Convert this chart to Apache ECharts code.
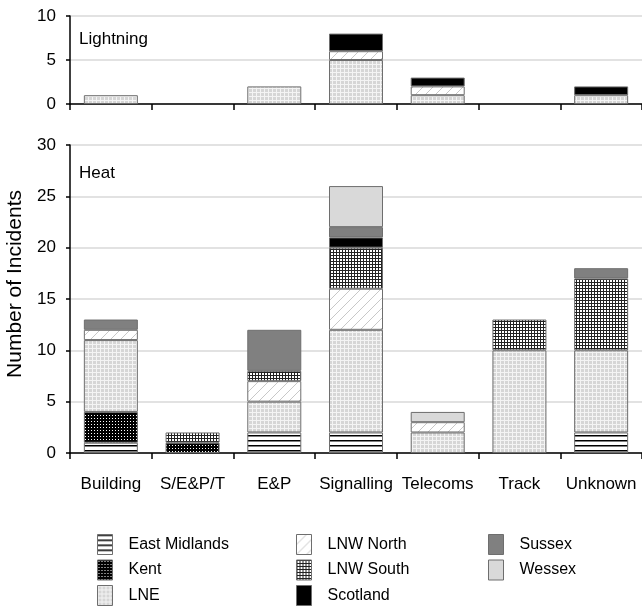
<!DOCTYPE html>
<html><head><meta charset="utf-8">
<script src="https://cdn.jsdelivr.net/npm/echarts@6/dist/echarts.min.js"></script>
<style>html,body{margin:0;padding:0;background:#fff}#c{width:642px;height:606px}</style>
</head><body><div id="c"></div>
<script>
const categories = ['Building','S/E&P/T','E&P','Signalling','Telecoms','Track','Unknown'];
const regions = ['East Midlands','Kent','LNE','LNW North','LNW South','Scotland','Sussex','Wessex'];
// Lightning incidents per region
const lightEastMidlands = [0,0,0,0,0,0,0];
const lightKent        = [0,0,0,0,0,0,0];
const lightLNE         = [1,0,2,5,1,0,1];
const lightLNWNorth    = [0,0,0,1,1,0,0];
const lightLNWSouth    = [0,0,0,0,0,0,0];
const lightScotland    = [0,0,0,2,1,0,1];
const lightSussex      = [0,0,0,0,0,0,0];
const lightWessex      = [0,0,0,0,0,0,0];
// Heat incidents per region
const heatEastMidlands = [1,0,2,2,0,0,2];
const heatKent         = [3,1,0,0,0,0,0];
const heatLNE          = [7,0,3,10,2,10,8];
const heatLNWNorth     = [1,0,2,4,1,0,0];
const heatLNWSouth     = [0,1,1,4,0,3,7];
const heatScotland     = [0,0,0,1,0,0,0];
const heatSussex       = [1,0,4,1,0,0,1];
const heatWessex       = [0,0,0,4,1,0,0];
const lightTicks = [0,5,10];
const heatTicks = [0,5,10,15,20,25,30];

const lightData = [lightEastMidlands,lightKent,lightLNE,lightLNWNorth,lightLNWSouth,lightScotland,lightSussex,lightWessex];
const heatData = [heatEastMidlands,heatKent,heatLNE,heatLNWNorth,heatLNWSouth,heatScotland,heatSussex,heatWessex];

function pat(w,h,draw){const c=document.createElement('canvas');c.width=w;c.height=h;const g=c.getContext('2d');draw(g);return {image:c,repeat:'repeat'};}
const fills = [
  pat(5,5,g=>{g.fillStyle='#fff';g.fillRect(0,0,5,5);g.fillStyle='#000';g.fillRect(0,0,5,1.5);}),
  pat(3,3,g=>{g.fillStyle='#000';g.fillRect(0,0,3,3);g.fillStyle='#fff';g.fillRect(1,1,1,1);}),
  pat(4,4,g=>{g.fillStyle='#d6d6d6';g.fillRect(0,0,4,4);g.fillStyle='#f4f4f4';g.fillRect(0,0,4,1);g.fillRect(0,0,1,4);}),
  pat(10,10,g=>{g.fillStyle='#fff';g.fillRect(0,0,10,10);g.strokeStyle='#c8c8c8';g.lineWidth=1;g.beginPath();g.moveTo(0,10);g.lineTo(10,0);g.stroke();}),
  pat(3,3,g=>{g.fillStyle='#fff';g.fillRect(0,0,3,3);g.fillStyle='#222';g.fillRect(0,0,3,1);g.fillRect(0,0,1,3);}),
  '#000',
  '#808080',
  '#d9d9d9'
];

const series = [];
regions.forEach((r,i)=>{
  const style = {color: fills[i], borderColor:'#6e6e6e', borderWidth:1};
  series.push({name:r,type:'bar',stack:'L',xAxisIndex:0,yAxisIndex:0,barWidth:54,
    data:lightData[i].map(v=>v===0?'-':v),itemStyle:style,emphasis:{disabled:true}});
  series.push({name:r,type:'bar',stack:'H',xAxisIndex:1,yAxisIndex:1,barWidth:54,
    data:heatData[i].map(v=>v===0?'-':v),itemStyle:style,emphasis:{disabled:true}});
});

const font = '"Liberation Sans", Arial, sans-serif';
const axisX = (show)=>({type:'category',data:categories,boundaryGap:true,
  axisLine:{lineStyle:{color:'#000',width:1.5}},
  axisTick:{show:true,length:6,lineStyle:{color:'#000',width:1.5},alignWithLabel:false},
  axisLabel:{show:show,interval:0,color:'#000',fontSize:17,fontFamily:font,margin:23}});
const axisY = (ticks)=>({type:'value',min:ticks[0],max:ticks[ticks.length-1],interval:ticks[1]-ticks[0],
  axisLine:{show:true,lineStyle:{color:'#000',width:1.5}},
  axisTick:{show:true,length:4,lineStyle:{color:'#000',width:1.5}},
  axisLabel:{color:'#000',fontSize:17,fontFamily:font,margin:14},
  splitLine:{lineStyle:{color:'#d9d9d9',width:1.5}}});

const legendBase = {orient:'vertical',icon:'rect',itemWidth:15,itemHeight:20,itemGap:4.5,padding:0,height:120,
  textStyle:{fontSize:16,fontFamily:font,color:'#000',padding:[0,0,0,11]},selectedMode:false,
  itemStyle:{borderColor:'#6e6e6e',borderWidth:1}};

const chart = echarts.init(document.getElementById('c'),null,{renderer:'canvas'});
chart.setOption({
  animation:false,
  textStyle:{fontFamily:font},
  grid:[{left:70,right:0,top:16,height:88},{left:70,right:0,top:145,height:308}],
  xAxis:[axisX(false),Object.assign(axisX(true),{gridIndex:1})],
  yAxis:[axisY(lightTicks),Object.assign(axisY(heatTicks),{gridIndex:1})],
  legend:[
    Object.assign({},legendBase,{left:97,top:534,data:regions.slice(0,3)}),
    Object.assign({},legendBase,{left:296,top:534,data:regions.slice(3,6)}),
    Object.assign({},legendBase,{left:488,top:534,data:regions.slice(6,8)})
  ],
  graphic:[
    {type:'text',x:79,y:39,style:{text:'Lightning',font:'17px '+font,fill:'#000',textVerticalAlign:'middle'}},
    {type:'text',x:79,y:173,style:{text:'Heat',font:'17px '+font,fill:'#000',textVerticalAlign:'middle'}},
    {type:'text',x:15,y:284,rotation:Math.PI/2,style:{text:'Number of Incidents',font:'21px '+font,fill:'#000',textAlign:'center',textVerticalAlign:'middle'}}
  ],
  series:series
});
</script></body></html>
